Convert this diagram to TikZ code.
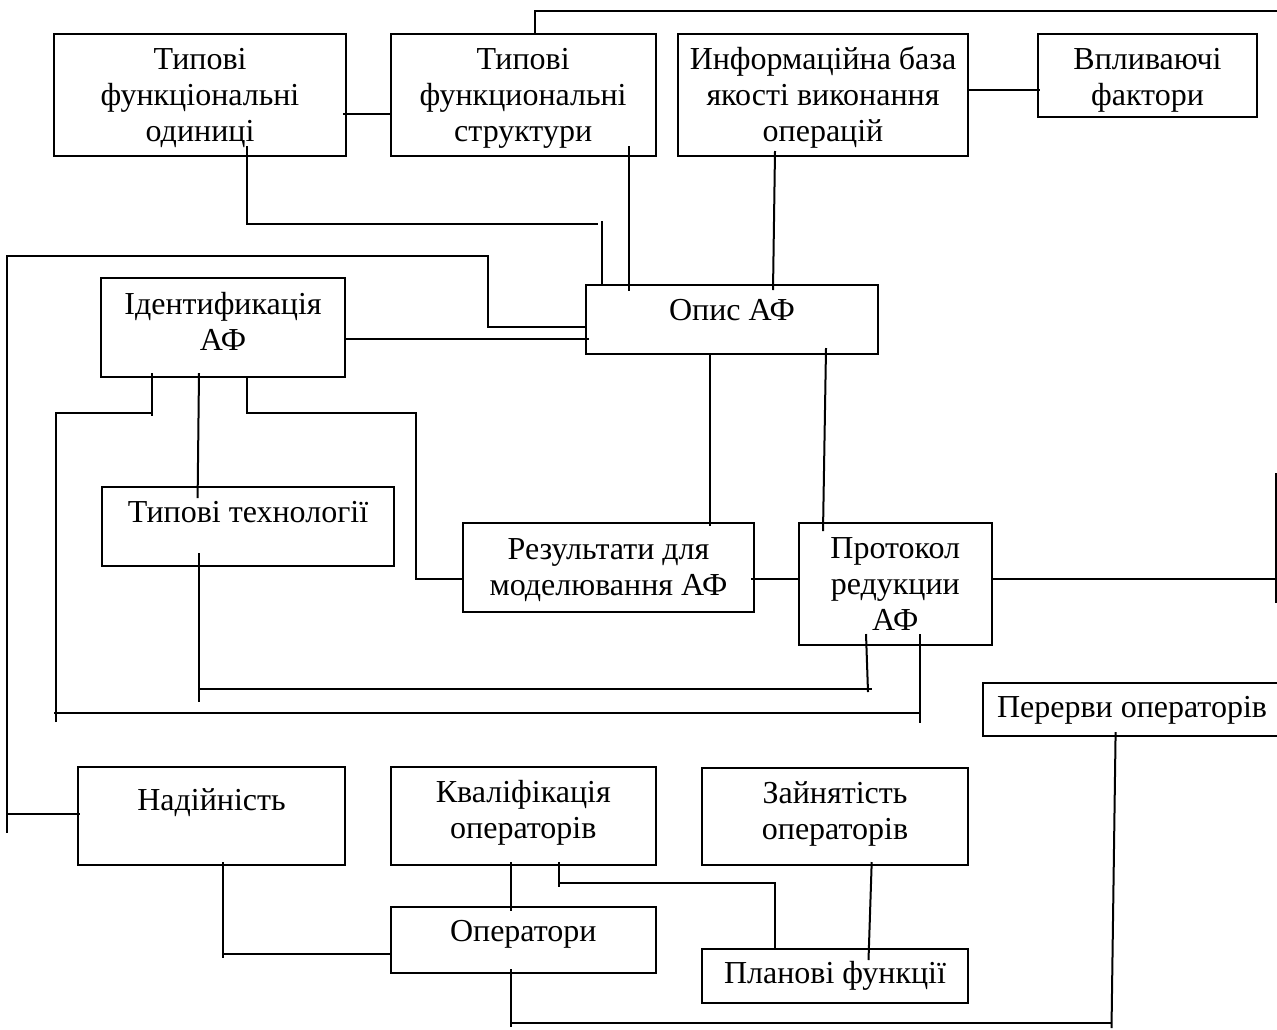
\documentclass[tikz,border=0pt]{standalone}
\usepackage{fontspec}
\setmainfont{Liberation Serif}
\usetikzlibrary{calc,fit}
\newcommand\fstrut{\rule{0pt}{12.6pt}}
\begin{document}
\begin{tikzpicture}[x=0.5pt,y=-0.5pt,line width=1pt,
  box/.style={draw,line width=1pt,inner sep=0pt,outer sep=0pt,fit={#1}},
  lbl/.style={align=center,inner sep=0pt,anchor=north,font=\fontsize{16}{18}\selectfont}]
\useasboundingbox (0,0) rectangle (1277,1029);
\clip (0,0) rectangle (1277,1029);

% ---------- blocks ----------
\node[box={(54,34) (346,156)}]        (b1) {};
\node[box={(390.6,34) (655.7,156)}]   (b2) {};
\node[box={(678,34) (968,156)}]       (b3) {};
\node[box={(1038,34) (1257,117)}]     (b4) {};
\node[box={(586,285) (878,354)}]      (opis) {};
\node[box={(101,278) (345,377)}]      (ident) {};
\node[box={(102,487) (394,566)}]      (tech) {};
\node[box={(463,523) (754,612)}]      (res) {};
\node[box={(798.5,523) (992,645)}]    (prot) {};
\node[box={(983,683) (1281,736)}]     (pererv) {};
\node[box={(78,767) (345,865)}]       (nad) {};
\node[box={(390.6,767) (656,865)}]    (kval) {};
\node[box={(702,768) (968,865)}]      (zain) {};
\node[box={(390.6,907) (656,973)}]    (oper) {};
\node[box={(702,949) (968,1003)}]     (plan) {};

% ---------- block texts ----------
\node[lbl] (b1t)   at ($(b1.north)+(0,8.8)$)    {\fstrut Типові\\функціональні\\одиниці};
\node[lbl] (b2t)   at ($(b2.north)+(0,8.8)$)    {\fstrut Типові\\функциональні\\структури};
\node[lbl] (b3t)   at ($(b3.north)+(0,8.8)$)    {\fstrut Информаційна база\\якості виконання\\операцій};
\node[lbl] (b4t)   at ($(b4.north)+(0,8.8)$)    {\fstrut Впливаючі\\фактори};
\node[lbl] (opist) at ($(opis.north)+(0,8.8)$)  {\fstrut Опис АФ};
\node[lbl] (identt) at ($(ident.north)+(0,9.8)$) {\fstrut Ідентификація\\АФ};
\node[lbl] (techt) at ($(tech.north)+(0,8.8)$)  {\fstrut Типові технології};
\node[lbl] (rest)  at ($(res.north)+(0,9.8)$)   {\fstrut Результати для\\моделювання АФ};
\node[lbl] (prott) at ($(prot.north)+(0,8.8)$)  {\fstrut Протокол\\редукции\\АФ};
\node[lbl] (perervt) at ($(pererv.north)+(0,7.8)$) {\fstrut Перерви операторів};
\node[lbl] (nadt)  at ($(nad.north)+(0,16.8)$)  {\fstrut Надійність};
\node[lbl] (kvalt) at ($(kval.north)+(0,8.8)$)  {\fstrut Кваліфікація\\операторів};
\node[lbl] (zaint) at ($(zain.north)+(0,8.8)$)  {\fstrut Зайнятість\\операторів};
\node[lbl] (opert) at ($(oper.north)+(0,7.8)$)  {\fstrut Оператори};
\node[lbl] (plant) at ($(plan.north)+(0,7.8)$)  {\fstrut Планові функції};

% ---------- free ends and bends ----------
\coordinate (tr) at (1277,11);
\coordinate (j1) at (598,224);
\coordinate (j2) at (602,221);
\coordinate (l1) at (488,256);
\coordinate (l2) at (7,833);
\coordinate (l3) at (7,814);
\coordinate (l5) at (56,722);
\coordinate (i1) at (152,413);
\coordinate (i2) at (416,413);
\coordinate (t1) at (199,702);
\coordinate (t2) at (872,689);
\coordinate (t3) at (868,692);
\coordinate (b0) at (54,713);
\coordinate (p1) at (920,723);
\coordinate (r1) at (1276,579);
\coordinate (r2) at (1276,473);
\coordinate (r3) at (1276,603);
\coordinate (q1) at (1111.5,1028);
\coordinate (q2) at (1112,1023);
\coordinate (q3) at (511,1027);
\coordinate (n1) at (223,958);
\coordinate (k1) at (775,883);
\coordinate (k0) at (559,887);

% ---------- connectors ----------
% upper row
\draw (b2.north -| 535,0) |- (tr);
\draw ($(b1.east |- 0,114)+(-3,0)$) -- (b2.west |- 0,114);
\draw ($(b3.east |- 0,90)+(-1,0)$) -- ($(b4.west |- 0,90)+(2,0)$);
\draw ($(b1.south -| 247,0)+(0,-10)$) |- (j1);
\draw (j2) -- (opis.north -| j2);
\draw ($(b2.south -| 629,0)+(0,-10)$) -- ($(opis.north -| 629,0)+(0,6)$);
\draw ($(b3.south -| 775,0)+(0,-5)$) -- ($(opis.north -| 773,0)+(0,5)$);

% outer loop on the left
\draw (opis.west |- 0,327) -| (l1) -| (l2);
\draw (l3) -- ($(nad.west |- l3)+(2,0)$);

% identification block
\draw (ident.east |- 0,339) -- ($(opis.west |- 0,339)+(3,0)$);
\draw ($(ident.south -| i1)+(0,-4)$) -- ($(i1)+(0,3)$);
\draw (l5) |- (i1);
\draw ($(ident.south -| 199,0)+(0,-4)$) -- ($(tech.north -| 197.6,0)+(0,11)$);
\draw (ident.south -| 247,0) |- (i2) |- (res.west |- 0,579);

% technologies and protocol feedback
\draw ($(tech.south -| t1)+(0,-13)$) -- (t1);
\draw (t1 |- t2) -- (t2);
\draw ($(prot.south -| 866,0)+(0,-11)$) -- (t3);
\draw ($(prot.south -| p1)+(0,-11)$) -- (p1);
\draw (b0) -- (b0 -| p1);

% description to results and protocol
\draw ($(opis.south -| 710,0)+(0,-1)$) -- ($(res.north -| 710,0)+(0,3)$);
\draw ($(opis.south -| 826,0)+(0,-6)$) -- ($(prot.north -| 823,0)+(0,8)$);
\draw ($(res.east |- r1)+(-3,0)$) -- (prot.west |- r1);
\draw (prot.east |- r1) -- (r1);
\draw[line width=0.8pt] (r2) -- (r3);

% operators
\draw ($(pererv.south -| 1115.6,0)+(0,-4)$) -- (q1);
\draw ($(oper.south -| q3)+(0,-4)$) -- (q3);
\draw (q3 |- q2) -- (q2);
\draw ($(nad.south -| n1)+(0,-3)$) -- (n1);
\draw (n1 |- 0,954) -- ($(oper.west |- 0,954)+(1,0)$);
\draw ($(kval.south -| 511,0)+(0,-3)$) -- ($(oper.north -| 511,0)+(0,4)$);
\draw ($(kval.south -| k0)+(0,-3)$) -- (k0);
\draw (k0 |- k1) -- (k1) -- (plan.north -| k1);
\draw ($(zain.south -| 871.7,0)+(0,-3)$) -- ($(plan.north -| 868.5,0)+(0,11)$);
\end{tikzpicture}
\end{document}
